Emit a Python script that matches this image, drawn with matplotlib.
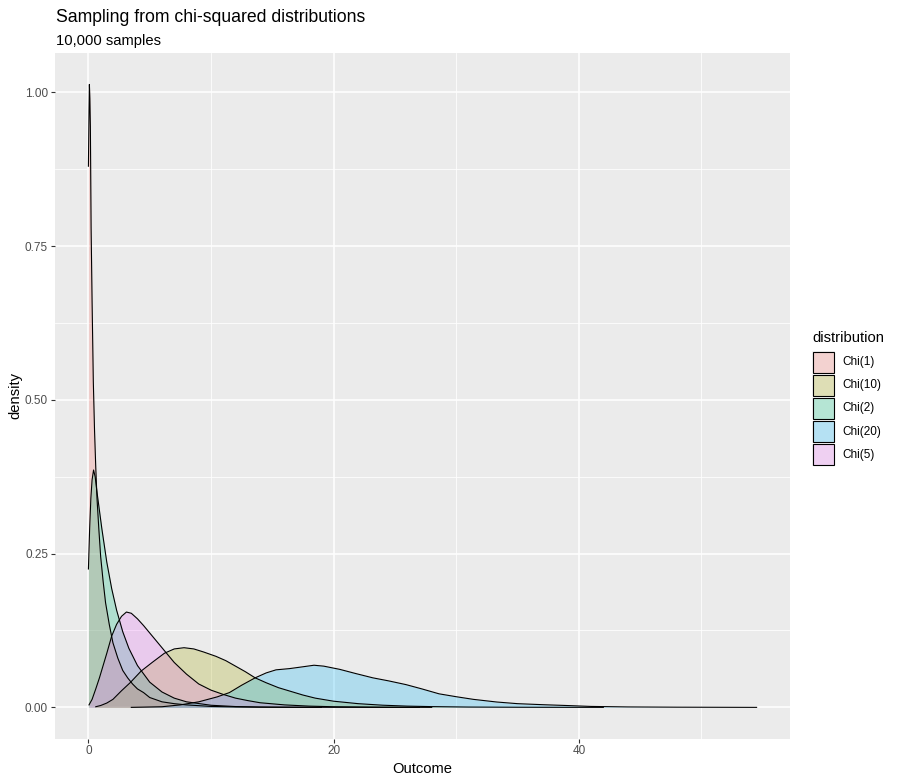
import matplotlib
matplotlib.use("Agg")
import matplotlib.pyplot as plt
from matplotlib.patches import Rectangle
import numpy as np

plt.rcParams['font.family'] = ['Liberation Sans', 'DejaVu Sans']

# values
labels = ["Chi(1)", "Chi(10)", "Chi(2)", "Chi(20)", "Chi(5)"]
colors = ["#F8766D", "#A3A500", "#00BF7D", "#00B0F6", "#E76BF3"]

chi1_x = [0.0, 0.05, 0.08, 0.12, 0.16, 0.22, 0.3, 0.4, 0.5, 0.6, 0.7, 0.85, 1.0, 1.2, 1.4,
          1.7, 2.0, 2.4, 2.8, 3.2, 3.6, 4.0, 4.5, 5.0, 6.0, 7.0, 8.0, 10.0, 12.0, 15.0, 19.0]
chi1_y = [0.88, 0.97, 1.013, 0.99, 0.945, 0.78, 0.66, 0.53, 0.45, 0.39, 0.34, 0.29, 0.245, 0.205, 0.17,
          0.135, 0.105, 0.08, 0.06, 0.048, 0.038, 0.03, 0.024, 0.016, 0.009, 0.006, 0.004, 0.0015, 0.0007, 0.0002, 0.0]

chi2_x = [0.0, 0.1, 0.2, 0.3, 0.42, 0.55, 0.7, 0.9, 1.1, 1.5, 1.9, 2.3, 2.8, 3.3, 4.0, 5.0, 6.0,
          7.0, 8.0, 10.0, 12.0, 14.0, 17.0, 20.0, 24.0, 27.0]
chi2_y = [0.225, 0.29, 0.34, 0.37, 0.386, 0.375, 0.35, 0.32, 0.29, 0.236, 0.193, 0.158, 0.123, 0.096, 0.068, 0.041, 0.025,
          0.015, 0.009, 0.0034, 0.0013, 0.0005, 0.0002, 0.0001, 0.0, 0.0]

chi5_x = [0.05, 0.3, 0.6, 0.9, 1.2, 1.5, 1.9, 2.3, 2.7, 3.1, 3.5, 4.0, 4.5, 5.0, 5.5, 6.0, 6.5, 7.0,
          8.0, 9.0, 10.0, 11.0, 12.0, 13.0, 14.0, 16.0, 18.0, 20.0, 24.0, 28.0]
chi5_y = [0.004, 0.013, 0.03, 0.048, 0.068, 0.088, 0.116, 0.135, 0.148, 0.155, 0.153, 0.144, 0.133, 0.121, 0.109, 0.097, 0.085, 0.073,
          0.054, 0.038, 0.028, 0.021, 0.015, 0.011, 0.0075, 0.004, 0.002, 0.001, 0.0003, 0.0]

chi10_x = [0.6, 1.0, 1.5, 2.0, 2.7, 3.4, 4.3, 5.2, 6.2, 7.0, 7.8, 8.6, 9.4, 10.4, 11.2, 12.0, 12.8,
           13.6, 14.5, 15.5, 16.5, 17.5, 18.5, 20.0, 22.0, 24.0, 26.0, 28.0, 31.0, 35.0, 38.0, 42.0]
chi10_y = [0.001, 0.003, 0.007, 0.013, 0.027, 0.04, 0.059, 0.073, 0.088, 0.095, 0.097, 0.095, 0.09, 0.083, 0.076, 0.067, 0.058,
           0.048, 0.04, 0.032, 0.026, 0.02, 0.015, 0.01, 0.006, 0.0035, 0.002, 0.0012, 0.0005, 0.0002, 0.0001, 0.0]

chi20_x = [3.5, 6.0, 7.5, 9.0, 10.5, 11.5, 12.5, 13.6, 14.5, 15.3, 16.4, 17.5, 18.4, 19.2, 20.5, 21.8,
           23.2, 24.5, 25.9, 27.2, 28.6, 30.0, 31.4, 33.3, 35.0, 37.1, 39.0, 41.0, 44.0, 48.0, 54.5]
chi20_y = [0.0, 0.001, 0.004, 0.009, 0.017, 0.024, 0.036, 0.048, 0.056, 0.061, 0.063, 0.066, 0.0685, 0.067, 0.0618, 0.055,
           0.048, 0.043, 0.037, 0.03, 0.022, 0.0173, 0.013, 0.0087, 0.006, 0.0043, 0.003, 0.0015, 0.0007, 0.0003, 0.0]

series = [(chi1_x, chi1_y), (chi10_x, chi10_y), (chi2_x, chi2_y), (chi20_x, chi20_y), (chi5_x, chi5_y)]

W, H = 898, 783
fig = plt.figure(figsize=(W / 100, H / 100), dpi=100)
fig.patch.set_facecolor("white")


def fx(px):
    return px / W


def fy(py):
    return 1 - py / H


# panel
ax = fig.add_axes([fx(55), fy(738.5), fx(790) - fx(55), fy(53.3) - fy(738.5)])
ax.set_facecolor("#EBEBEB")
for s in ax.spines.values():
    s.set_visible(False)

for (xs, ys), c in zip(series, colors):
    ax.fill_between(xs, 0, ys, color=c, alpha=0.25, linewidth=0, zorder=3)
    ax.plot(xs, ys, color="black", linewidth=0.8, zorder=4)

allx = [v for xs, _ in series for v in xs]
ally = [v for _, ys in series for v in ys]
xr = max(allx) - min(allx)
yr = max(ally) - min(ally)
ax.set_xlim(min(allx) - 0.05 * xr, max(allx) + 0.05 * xr)
ax.set_ylim(min(ally) - 0.05 * yr, max(ally) + 0.05 * yr)

ax.set_xticks([0, 20, 40])
ax.set_xticks([10, 30, 50], minor=True)
ax.set_yticks([0, 0.25, 0.5, 0.75, 1.0])
ax.set_yticks([0.125, 0.375, 0.625, 0.875], minor=True)
ax.set_yticklabels(["0.00", "0.25", "0.50", "0.75", "1.00"])
ax.grid(which="major", color="white", linewidth=1.1, zorder=0)
ax.grid(which="minor", color="white", linewidth=0.55, zorder=0)
ax.set_axisbelow(True)
ax.tick_params(which="major", length=3, width=0.8, color="#333333",
               labelcolor="#4D4D4D", labelsize=8.5, pad=2)
ax.tick_params(which="minor", length=0)

ax.set_xlabel("Outcome", fontsize=10.6, labelpad=3)
ax.set_ylabel("density", fontsize=10.6, labelpad=2)

# title / subtitle
fig.text(fx(56), fy(22), "Sampling from chi-squared distributions", fontsize=12.7, va="baseline", ha="left")
fig.text(fx(56), fy(45), "10,000 samples", fontsize=10.6, va="baseline", ha="left")

# legend
fig.text(fx(812), fy(342), "distribution", fontsize=10.6, va="baseline", ha="left")
for i, (lab, c) in enumerate(zip(labels, colors)):
    top = 351 + i * 23.2
    fig.add_artist(Rectangle((fx(812), fy(top + 22)), fx(22.5), fy(0) - fy(22),
                             transform=fig.transFigure, facecolor="#F2F2F2", edgecolor="none"))
    fig.add_artist(Rectangle((fx(812.5), fy(top + 21.5)), fx(21.5), fy(0) - fy(21),
                             transform=fig.transFigure, facecolor=c, alpha=0.25, edgecolor="none"))
    fig.add_artist(Rectangle((fx(812.5), fy(top + 21.5)), fx(21.5), fy(0) - fy(21),
                             transform=fig.transFigure, facecolor="none", edgecolor="black", linewidth=0.8))
    fig.text(fx(842), fy(top + 11), lab, fontsize=8.5, va="center", ha="left")

fig.savefig("out.png", dpi=100)
